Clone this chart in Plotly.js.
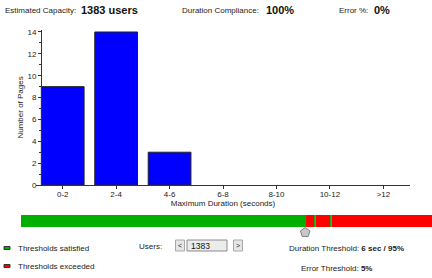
<!DOCTYPE html>
<html>
<head>
<meta charset="utf-8">
<script src="https://cdn.plot.ly/plotly-3.0.1.min.js"></script>
<style>
  html, body { margin: 0; padding: 0; background: #fff; }
  #chart { width: 432px; height: 278px; }
</style>
</head>
<body>
<div id="chart"></div>
<script>
// ---- data ----
var categories = ['0-2', '2-4', '4-6', '6-8', '8-10', '10-12', '>12'];
var pageCounts = [9, 14, 3, 0, 0, 0, 0];
var yTickValues = [0, 2, 4, 6, 8, 10, 12, 14];

var estimatedCapacity = 1383;
var durationCompliance = '100%';
var errorPercent = '0%';
var durationThreshold = '6 sec / 95%';
var errorThreshold = '5%';

// threshold strip along the users scale
var stripEdges = [0, 1387, 1426, 1433, 1504, 1511, 2000];
var stripStatus = ['satisfied', 'exceeded', 'satisfied', 'exceeded', 'satisfied', 'exceeded'];
var usersMax = 2000;

// ---- layout helpers (page pixels -> paper) ----
var W = 432, H = 278;
function px(x) { return x / W; }
function py(y) { return 1 - y / H; }

var FONT = 'Liberation Sans, Arial, sans-serif';
var TXT = '#222';
var GREEN = '#00b000', RED = '#ff0000';

var stripBase = [], stripLen = [], stripColor = [], stripY = [];
for (var i = 0; i < stripStatus.length; i++) {
  stripBase.push(stripEdges[i]);
  stripLen.push(stripEdges[i + 1] - stripEdges[i]);
  stripColor.push(stripStatus[i] === 'satisfied' ? GREEN : RED);
  stripY.push(19);
}
var barLineWidths = pageCounts.map(function (v) { return v > 0 ? 1 : 0; });

var traces = [
  {
    type: 'bar', x: categories, y: pageCounts, width: 0.8,
    marker: { color: '#0000ff', line: { color: '#222', width: barLineWidths } },
    xaxis: 'x', yaxis: 'y', hoverinfo: 'skip', showlegend: false
  },
  {
    type: 'bar', orientation: 'h', base: stripBase, x: stripLen, y: stripY, width: 12,
    marker: { color: stripColor, line: { width: 0 } },
    xaxis: 'x2', yaxis: 'y2', hoverinfo: 'skip', showlegend: false
  },
  {
    type: 'scatter', mode: 'markers', x: [estimatedCapacity], y: [7.5],
    marker: { symbol: 'pentagon', size: 10, color: '#c8c8c8', line: { color: '#808080', width: 1 } },
    xaxis: 'x2', yaxis: 'y2', cliponaxis: false, hoverinfo: 'skip', showlegend: false
  }
];

function ann(x, y, text, size, extra) {
  var a = {
    xref: 'paper', yref: 'paper', x: px(x), y: py(y), text: text,
    showarrow: false, xanchor: 'left', yanchor: 'middle',
    font: { family: FONT, size: size || 8, color: TXT }
  };
  if (extra) for (var k in extra) a[k] = extra[k];
  return a;
}

var annotations = [
  ann(3, 10, 'Estimated Capacity:', 8),
  ann(79, 10, '<b>' + estimatedCapacity + ' users</b>', 11, { font: { family: FONT, size: 11, color: '#111' } }),
  ann(180, 10, 'Duration Compliance:', 8),
  ann(264, 10, '<b>' + durationCompliance + '</b>', 11, { font: { family: FONT, size: 11, color: '#111' } }),
  ann(337, 10, 'Error %:', 8),
  ann(372, 10, '<b>' + errorPercent + '</b>', 11, { font: { family: FONT, size: 11, color: '#111' } }),
  ann(16, 248, 'Thresholds satisfied', 8),
  ann(16, 266, 'Thresholds exceeded', 8),
  ann(137, 246, 'Users:', 8),
  ann(180, 245.5, '&lt;', 7, { xanchor: 'center' }),
  ann(189, 245.5, String(estimatedCapacity), 8.5, { font: { family: FONT, size: 8.5, color: '#111' } }),
  ann(238, 245.5, '&gt;', 7, { xanchor: 'center' }),
  ann(287, 248.5, 'Duration Threshold: <b>' + durationThreshold + '</b>', 8),
  ann(299, 268, 'Error Threshold: <b>' + errorThreshold + '</b>', 8)
];

function rect(x0, y0, x1, y1, fill, line) {
  return {
    type: 'rect', xref: 'paper', yref: 'paper',
    x0: px(x0), x1: px(x1), y0: py(y1), y1: py(y0),
    fillcolor: fill, line: { color: line, width: 1 }, layer: 'above'
  };
}

var shapes = [
  rect(4, 246.5, 10, 249.5, GREEN, '#333'),
  rect(4, 264.5, 10, 267.5, RED, '#333'),
  rect(175.5, 240, 184.5, 251, '#e6e6e6', '#a8a8a8'),
  rect(187, 240, 227, 251, '#ececec', '#8a8a8a'),
  rect(233.5, 240, 242.5, 251, '#e6e6e6', '#a8a8a8')
];

var layout = {
  width: W, height: H,
  margin: { l: 0, r: 0, t: 0, b: 0, pad: 0 },
  paper_bgcolor: '#fff', plot_bgcolor: 'rgba(0,0,0,0)',
  font: { family: FONT, size: 8, color: TXT },
  bargap: 0.2,
  xaxis: {
    domain: [px(36), px(410)], anchor: 'y', type: 'category',
    categoryorder: 'array', categoryarray: categories, range: [-0.5, 6.5],
    showline: true, linecolor: '#333', linewidth: 1,
    ticks: 'outside', ticklen: 3, tickcolor: '#333', ticklabelstandoff: -2,
    tickfont: { family: FONT, size: 8, color: TXT },
    showgrid: false, zeroline: false, fixedrange: true,
    title: { text: 'Maximum Duration (seconds)', font: { family: FONT, size: 8, color: TXT }, standoff: 1 }
  },
  yaxis: {
    domain: [py(185), py(29.8)], anchor: 'free', position: px(41),
    range: [0, 14.2], tickvals: yTickValues,
    showline: true, linecolor: '#333', linewidth: 1,
    ticks: 'outside', ticklen: 3, tickcolor: '#333',
    minor: { dtick: 1, ticks: 'outside', ticklen: 2, tickcolor: '#333', showgrid: false },
    tickfont: { family: FONT, size: 8, color: TXT },
    showgrid: false, zeroline: false, fixedrange: true,
    title: { text: 'Number of Pages', font: { family: FONT, size: 8, color: TXT }, standoff: 1 }
  },
  xaxis2: {
    domain: [px(21), 1], anchor: 'y2', range: [0, usersMax],
    visible: false, fixedrange: true
  },
  yaxis2: {
    domain: [py(240), py(212)], anchor: 'x2', range: [0, 28],
    visible: false, fixedrange: true
  },
  annotations: annotations,
  shapes: shapes,
  showlegend: false
};

Plotly.newPlot('chart', traces, layout, { staticPlot: true, displayModeBar: false });
</script>
</body>
</html>
